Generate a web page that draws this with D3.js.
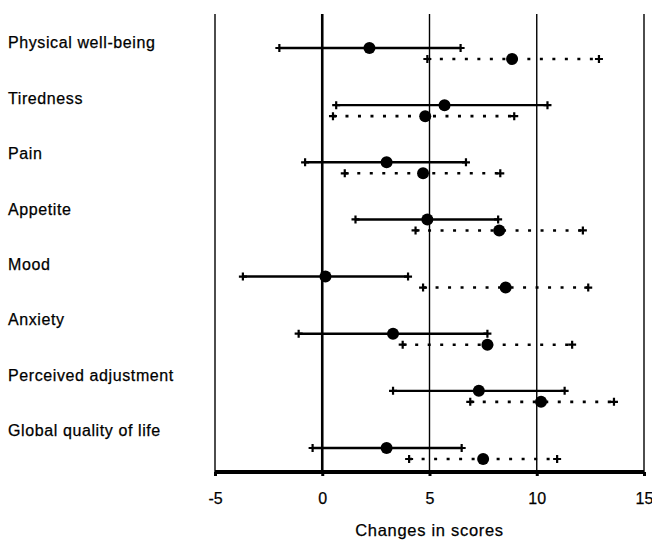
<!DOCTYPE html>
<html>
<head>
<meta charset="utf-8">
<script src="https://cdn.jsdelivr.net/npm/d3@7"></script>
<style>
  body { margin: 0; background: #fff; }
  text { font-family: Arial, "Liberation Sans", sans-serif; fill: #000; stroke: #000; stroke-width: 0.25px; }
</style>
</head>
<body>
<div id="chart"></div>
<script>
// categories, top to bottom
var categories = ["Physical well-being", "Tiredness", "Pain", "Appetite", "Mood",
                  "Anxiety", "Perceived adjustment", "Global quality of life"];

// solid series: mean change with interval
var solidMean = [2.2, 5.7, 3.0, 4.9, 0.15, 3.3, 7.3, 3.0];
var solidLow  = [-2.0, 0.65, -0.8, 1.55, -3.7, -1.1, 3.3, -0.45];
var solidHigh = [6.45, 10.5, 6.7, 8.2, 4.0, 7.7, 11.3, 6.5];

// dotted series
var dotMean = [8.85, 4.8, 4.7, 8.25, 8.55, 7.7, 10.2, 7.5];
var dotLow  = [4.9, 0.5, 1.05, 4.35, 4.7, 3.75, 6.9, 4.05];
var dotHigh = [12.9, 8.95, 8.3, 12.15, 12.4, 11.65, 13.6, 10.95];

var xTicks = [-5, 0, 5, 10, 15];

var width = 652, height = 540;

var svg = d3.select("#chart").append("svg")
    .attr("width", width)
    .attr("height", height);

var x = d3.scaleLinear().domain([-5, 15]).range([215, 644]);

// row positions for the solid bars; dotted sit just under them
var y = d3.scalePoint().domain(categories).range([48, 448]);
var dotOffset = 11;
// labels drift upward slightly relative to the rows in the original
var yLabel = d3.scalePoint().domain(categories).range([44, 432]);

var axisY = 472, plotTop = 14;

// vertical grid lines
svg.selectAll("line.grid")
    .data(xTicks)
    .enter()
    .append("line")
    .attr("class", "grid")
    .attr("x1", d => x(d))
    .attr("x2", d => x(d))
    .attr("y1", plotTop)
    .attr("y2", axisY)
    .attr("stroke", "#000")
    .attr("stroke-width", d => d === 0 ? 2.6 : 1.4);

// bottom axis
var xAxis = d3.axisBottom(x)
    .tickValues(xTicks)
    .tickSize(4)
    .tickPadding(17)
    .tickFormat(d => String(d));

var gx = svg.append("g")
    .attr("transform", `translate(0, ${axisY})`)
    .call(xAxis);

gx.select(".domain")
    .attr("d", `M${x(-5)},0H${x(15)}`)
    .attr("stroke", "#000")
    .attr("stroke-width", 4);
gx.selectAll(".tick line").attr("stroke", "#000").attr("stroke-width", 3);
gx.selectAll(".tick text")
    .style("font-family", "Arial, 'Liberation Sans', sans-serif")
    .style("font-size", "16px")
    .attr("fill", "#000");

svg.append("text")
    .attr("x", (x(-5) + x(15)) / 2)
    .attr("y", 532)
    .attr("text-anchor", "middle")
    .attr("dominant-baseline", "middle")
    .style("font-size", "16.5px")
    .style("letter-spacing", "0.7px")
    .text("Changes in scores");

// category labels
svg.selectAll("text.cat")
    .data(categories)
    .enter()
    .append("text")
    .attr("class", "cat")
    .attr("x", 8)
    .attr("y", d => yLabel(d))
    .attr("dominant-baseline", "middle")
    .style("font-size", "16px")
    .style("letter-spacing", "0.6px")
    .text(d => d);

// build row records
var solidRows = categories.map((c, i) => ({ cat: c, lo: solidLow[i], mid: solidMean[i], hi: solidHigh[i], yy: y(c) }));
var dotRows = categories.map((c, i) => ({ cat: c, lo: dotLow[i], mid: dotMean[i], hi: dotHigh[i], yy: y(c) + dotOffset }));

function cross(cx, cy) {
    return `M${cx - 4},${cy}H${cx + 4}M${cx},${cy - 4}V${cy + 4}`;
}

function drawSeries(rows, dashed, cls) {
    var g = svg.append("g").classed(cls, true);

    g.selectAll("line")
        .data(rows)
        .enter()
        .append("line")
        .attr("x1", d => x(d.lo))
        .attr("x2", d => x(d.hi))
        .attr("y1", d => d.yy)
        .attr("y2", d => d.yy)
        .attr("stroke", "#000")
        .attr("stroke-width", dashed ? 2.6 : 2.4)
        .attr("stroke-dasharray", dashed ? "3,9.5" : null);

    g.selectAll("path.cap")
        .data(rows.flatMap(d => [{ v: d.lo, yy: d.yy }, { v: d.hi, yy: d.yy }]))
        .enter()
        .append("path")
        .attr("class", "cap")
        .attr("d", d => cross(x(d.v), d.yy))
        .attr("stroke", "#000")
        .attr("stroke-width", 2.2)
        .attr("fill", "none");

    g.selectAll("circle")
        .data(rows)
        .enter()
        .append("circle")
        .attr("cx", d => x(d.mid))
        .attr("cy", d => d.yy)
        .attr("r", 6)
        .attr("fill", "#000");
}

drawSeries(solidRows, false, "solid");
drawSeries(dotRows, true, "dotted");
</script>
</body>
</html>
